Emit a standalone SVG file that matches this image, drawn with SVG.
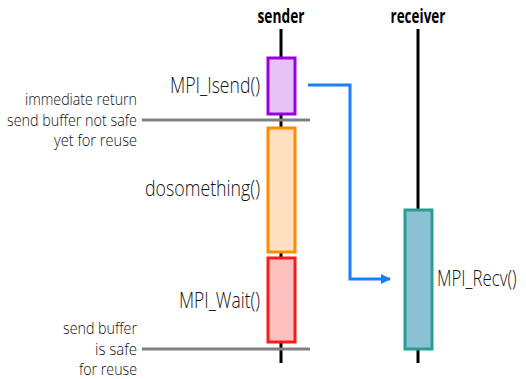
<svg xmlns="http://www.w3.org/2000/svg" width="526" height="379" viewBox="0 0 526 379">
<style>
.life{stroke:#000;stroke-width:3}
.sep{stroke:#808080;stroke-width:3}
.lbl{font-family:"Open Sans","DejaVu Sans",sans-serif;font-size:22px;fill:#111;font-weight:300}
.note{font-family:"Open Sans","DejaVu Sans",sans-serif;font-size:16px;fill:#111;font-weight:300;text-anchor:end}
.hdr{font-family:"Open Sans","DejaVu Sans",sans-serif;font-size:19px;font-weight:700;fill:#000;text-anchor:middle}
</style>
<defs>
<marker id="ah" markerWidth="10" markerHeight="10" refX="9" refY="5" orient="auto" markerUnits="userSpaceOnUse">
<path d="M0,0 L10,5 L0,10 Z" fill="#1a7fff"/>
</marker>
</defs>
<g id="sender">
<text class="hdr" x="281" y="23" textLength="47" lengthAdjust="spacingAndGlyphs">sender</text>
<line class="life" x1="281" y1="29" x2="281" y2="363"/>
</g>
<g id="receiver">
<text class="hdr" x="418" y="23" textLength="55" lengthAdjust="spacingAndGlyphs">receiver</text>
<line class="life" x1="418" y1="29" x2="418" y2="363"/>
</g>
<g id="separators">
<line class="sep" x1="142" y1="120" x2="310" y2="120"/>
<line class="sep" x1="142" y1="349" x2="310" y2="349"/>
</g>
<g id="isend">
<rect x="268" y="58" width="27" height="56" fill="#e6c2f5" stroke="#9a00dd" stroke-width="3"/>
<text class="lbl" x="170" y="93" textLength="90" lengthAdjust="spacingAndGlyphs">MPI_Isend()</text>
</g>
<g id="dosomething">
<rect x="268" y="128" width="27" height="124" fill="#ffe1c2" stroke="#ff8c00" stroke-width="3"/>
<text class="lbl" x="145" y="196" textLength="115" lengthAdjust="spacingAndGlyphs">dosomething()</text>
</g>
<g id="wait">
<rect x="268" y="258" width="27" height="84" fill="#ffc0c0" stroke="#ff1a1a" stroke-width="3"/>
<text class="lbl" x="179" y="308" textLength="81" lengthAdjust="spacingAndGlyphs">MPI_Wait()</text>
</g>
<g id="recv">
<rect x="405" y="210" width="27" height="139" fill="#8bc1d5" stroke="#2a9d93" stroke-width="3"/>
<text class="lbl" transform="translate(437,286) scale(0.78,1)" x="0" y="0" textLength="102" lengthAdjust="spacingAndGlyphs">MPI_Recv()</text>
</g>
<g id="notes">
<text class="note" x="137" y="105" textLength="112" lengthAdjust="spacingAndGlyphs">immediate return</text>
<text class="note" x="137" y="126" textLength="130" lengthAdjust="spacingAndGlyphs">send buffer not safe</text>
<text class="note" x="137" y="146" textLength="83" lengthAdjust="spacingAndGlyphs">yet for reuse</text>
<text class="note" x="137" y="334" textLength="74" lengthAdjust="spacingAndGlyphs">send buffer</text>
<text class="note" x="137" y="355" textLength="42" lengthAdjust="spacingAndGlyphs">is safe</text>
<text class="note" x="137" y="375" textLength="58" lengthAdjust="spacingAndGlyphs">for reuse</text>
</g>
<g id="connectors">
<polyline points="308,85 350,85 350,279 390,279" fill="none" stroke="#1a7fff" stroke-width="3" marker-end="url(#ah)"/>
</g>
</svg>
